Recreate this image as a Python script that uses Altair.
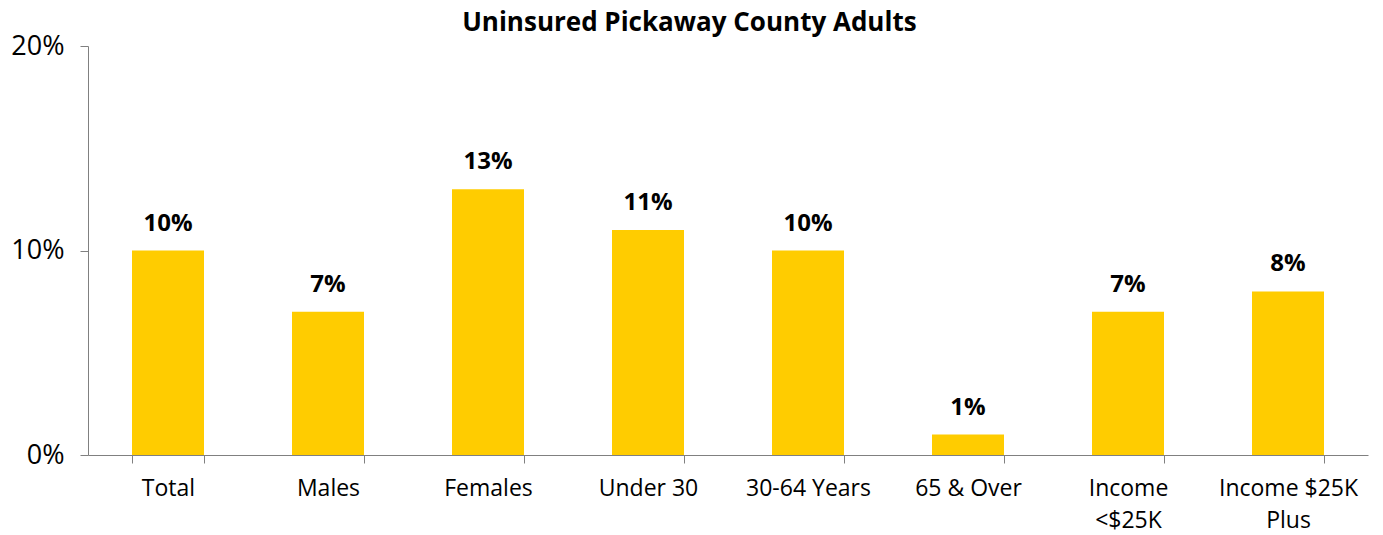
import altair as alt
import pandas as pd

categories = ["Total", "Males", "Females", "Under 30", "30-64 Years", "65 & Over",
              "Income\n<$25K", "Income $25K\nPlus"]
values = [0.10, 0.07, 0.13, 0.11, 0.10, 0.01, 0.07, 0.08]
labels = ["10%", "7%", "13%", "11%", "10%", "1%", "7%", "8%"]

df = pd.DataFrame({"cat": categories, "val": values, "lab": labels})

FONT = "Open Sans"

x = alt.X("cat:N", sort=categories, title=None,
          scale=alt.Scale(paddingInner=0.55, paddingOuter=0.275),
          axis=alt.Axis(labelAngle=0, tickBand="extent", labelFontSize=23, labelFont=FONT,
                        labelColor="black", labelPadding=14, tickSize=8, tickColor="#808080",
                        domainColor="#808080", labelExpr="split(datum.label, '\\n')",
                        labelLineHeight=32, labelBaseline="top"))
y = alt.Y("val:Q", title=None,
          scale=alt.Scale(domain=[0, 0.2]),
          axis=alt.Axis(values=[0, 0.1, 0.2], format=".0%", grid=False, labelFontSize=27,
                        labelFont=FONT, labelColor="black", labelPadding=16, tickSize=8,
                        tickColor="#808080", domainColor="#808080"))

bars = alt.Chart(df).mark_bar(color="#FFCC00").encode(x=x, y=y)
text = alt.Chart(df).mark_text(baseline="bottom", dy=-15, fontSize=24, fontWeight="bold",
                               font=FONT, color="black").encode(
    x=alt.X("cat:N", sort=categories), y="val:Q", text="lab:N")

chart = (bars + text).properties(
    width=1280, height=409,
    autosize=alt.AutoSizeParams(type="none"),
    title=alt.TitleParams("Uninsured Pickaway County Adults", fontSize=26, fontWeight="bold",
                          font=FONT, color="black", anchor="middle", frame="bounds", offset=-4),
    padding={"left": 88, "top": 46, "right": 15, "bottom": 80},
).configure_view(stroke=None)

chart.save("out.html", embed_options={"renderer": "svg", "actions": False})
